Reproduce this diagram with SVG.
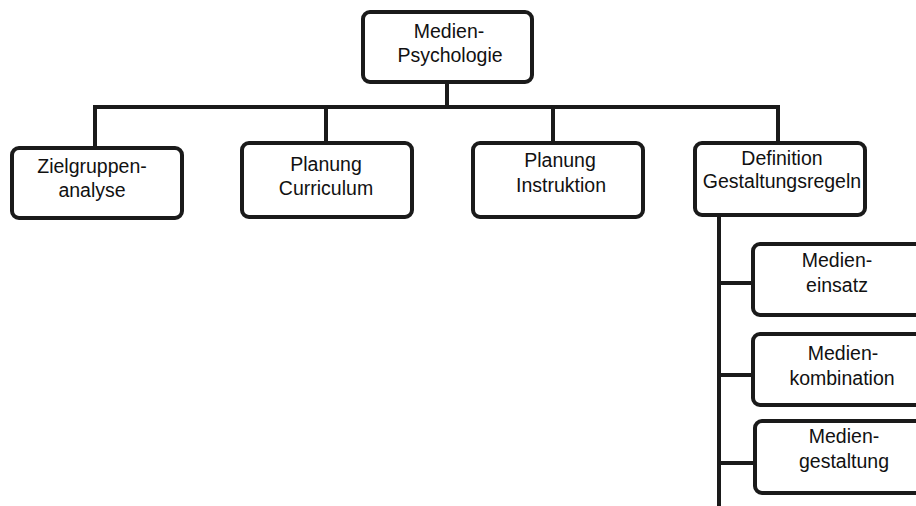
<svg xmlns="http://www.w3.org/2000/svg" width="916" height="506" viewBox="0 0 916 506">
  <style>
    .box { fill: #ffffff; stroke: #1a1a1a; stroke-width: 4; }
    .wire { fill: none; stroke: #1a1a1a; stroke-width: 4; stroke-linecap: square; }
    text { font-family: "Liberation Sans", Arial, sans-serif; font-size: 19.5px; fill: #111111; text-anchor: middle; }
  </style>
  <rect width="916" height="506" fill="#ffffff"/>

  <g id="connectors">
    <path class="wire" d="M447 82 V107"/>
    <path class="wire" d="M95 148 V107 H778 V143"/>
    <path class="wire" d="M326 107 V143"/>
    <path class="wire" d="M553 107 V143"/>
    <path class="wire" d="M719 215 V506"/>
    <path class="wire" d="M719 283 H753"/>
    <path class="wire" d="M719 375 H753"/>
    <path class="wire" d="M719 463 H755"/>
  </g>

  <g id="medien-psychologie">
    <rect class="box" x="363" y="12" width="169" height="70" rx="7"/>
    <text x="449" y="38">Medien-</text>
    <text x="450" y="62">Psychologie</text>
  </g>

  <g id="zielgruppenanalyse">
    <rect class="box" x="12" y="148" width="170" height="70" rx="7"/>
    <text x="92" y="173">Zielgruppen-</text>
    <text x="92" y="197">analyse</text>
  </g>

  <g id="planung-curriculum">
    <rect class="box" x="242" y="143" width="170" height="74" rx="7"/>
    <text x="326" y="171">Planung</text>
    <text x="326" y="195">Curriculum</text>
  </g>

  <g id="planung-instruktion">
    <rect class="box" x="473" y="143" width="170" height="74" rx="7"/>
    <text x="560" y="167">Planung</text>
    <text x="561" y="192">Instruktion</text>
  </g>

  <g id="definition-gestaltungsregeln">
    <rect class="box" x="695" y="143" width="170" height="72" rx="7"/>
    <text x="782" y="165">Definition</text>
    <text x="782" y="188">Gestaltungsregeln</text>
  </g>

  <g id="medieneinsatz">
    <rect class="box" x="753" y="244" width="180" height="71" rx="7"/>
    <text x="837" y="267">Medien-</text>
    <text x="837" y="292">einsatz</text>
  </g>

  <g id="medienkombination">
    <rect class="box" x="753" y="334" width="180" height="71" rx="7"/>
    <text x="843" y="360">Medien-</text>
    <text x="842" y="385">kombination</text>
  </g>

  <g id="mediengestaltung">
    <rect class="box" x="755" y="421" width="180" height="72" rx="7"/>
    <text x="844" y="443">Medien-</text>
    <text x="844" y="468">gestaltung</text>
  </g>
</svg>
